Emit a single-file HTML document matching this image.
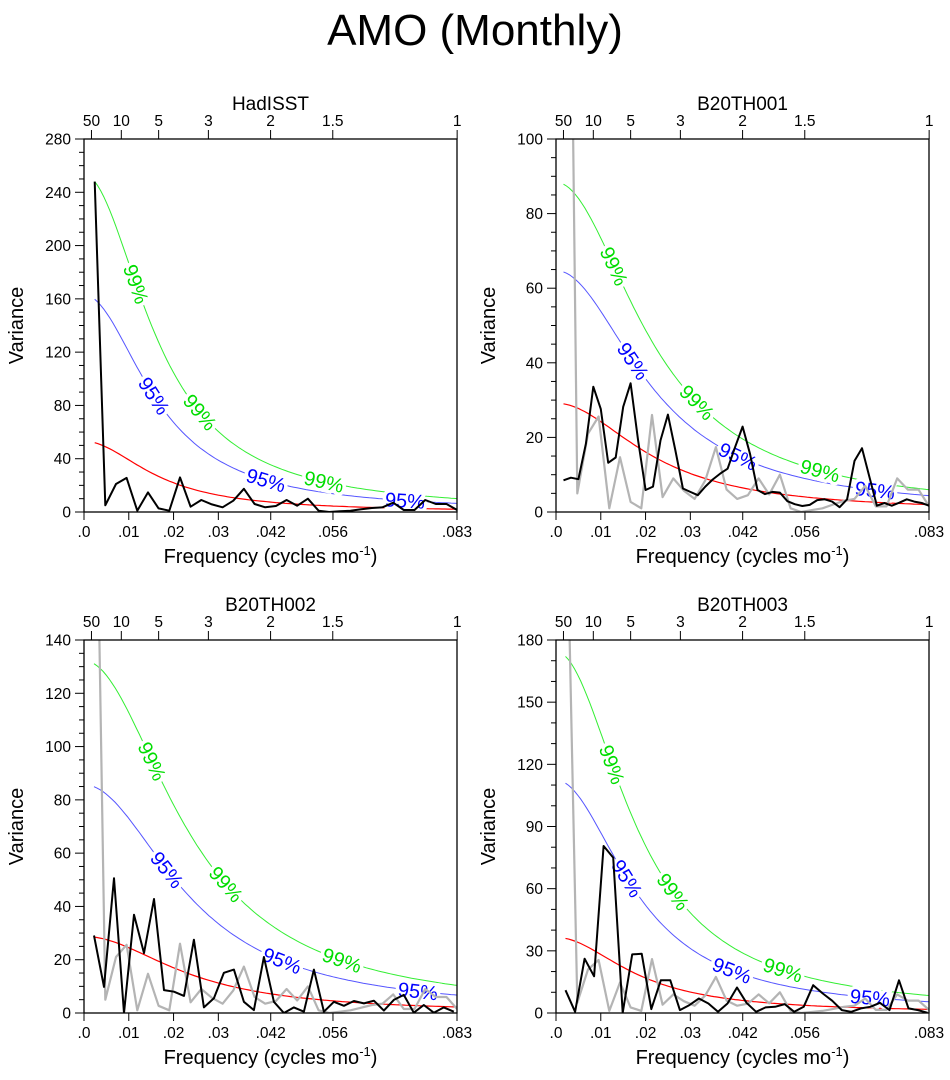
<!DOCTYPE html>
<html><head><meta charset="utf-8"><style>
html,body{margin:0;padding:0;background:#fff;}
svg{display:block;font-family:"Liberation Sans",sans-serif;}
</style></head><body>
<svg id="chart" width="950" height="1080" viewBox="0 0 950 1080">
<text x="475" y="45" font-size="44" text-anchor="middle">AMO (Monthly)</text>
</svg>
<script>
// HadISST spectrum (also shown in grey in model panels), 1/420 cycles per month spacing
const hadVals = [248,5,21,25.6,1,14.7,2.7,1,26,4,9,5.7,3.5,8.5,17.4,6,3.5,4.5,9,4.7,10,1,0,0.5,1,2,3,3.5,7,1.5,1.5,9,6,6,1.5];
const b001Vals = [8.5,9.2,8.8,18.3,33.6,27.6,13.2,14.6,28.2,34.5,19.2,5.9,6.8,19.2,26.1,16.5,6.3,5.4,4.5,6.8,8.7,10.3,11.6,17.4,22.9,15.6,5.9,4.8,5.4,5.2,2.9,2.1,1.6,1.9,3.2,3.4,2.8,1.3,3.4,13.7,17.1,9.4,1.7,2.4,1.7,2.5,3.4,2.8,2.4,1.7];
const b002Vals = [29.1,9.8,50.6,0,36.9,22.5,42.8,8.6,8.0,6.4,27.5,2.1,5.5,15.1,16.3,4.2,1.1,21.0,4.2,0,2.1,0.5,16.3,0.5,4.2,2.7,4.5,3.6,4.6,0.9,4.9,6.8,0.1,3.0,0.1,2.1,0.5];
const b003Vals = [11.0,0.6,26.2,17.7,80.6,75.0,0.1,28.3,28.6,1.9,15.8,15.8,1.4,3.8,7.0,4.6,0.6,4.6,12.3,4.9,0.6,2.7,3.0,4.3,0.6,3.0,13.4,9.4,5.9,1.4,0.6,2.2,3.0,4.9,1.4,15.8,2.2,1.4,0.1];
const recordMonths = [420,600,448,470];
const panelTitles = ["HadISST","B20TH001","B20TH002","B20TH003"];
const yMaxes = [280,100,140,180];
const yMajorSteps = [40,20,20,30];
const yMinorSteps = [10,5,5,10];
const redStart = [52,29,28.5,36];
const redR = [0.9,0.87,0.86,0.89];
const fac95 = [3.07,2.22,2.98,3.08];
const fac99 = [4.77,3.03,4.6,4.78];
const xTickVals = [0,0.01,0.02,0.03,0.0417,0.0556,0.0833];
const xTickLabels = [".0",".01",".02",".03",".042",".056",".083"];
const periodVals = [50,10,5,3,2,1.5,1];
const label99X = [[136,200,324],[614,697,820],[152,226,342],[612,673,783]];
const label95X = [[154,266,405],[633,738,875],[167,282,418],[627,732,870]];

const svg = document.getElementById('chart');
const NS = 'http://www.w3.org/2000/svg';
function mk(tag, attrs, parent){const e=document.createElementNS(NS,tag);for(const k in attrs)e.setAttribute(k,attrs[k]);(parent||svg).appendChild(e);return e;}

const panels = [{x0:84,y0:139},{x0:556,y0:139},{x0:84,y0:640},{x0:556,y0:640}];
const W=373,H=373,FMAX=0.0833;
const modelData=[hadVals,b001Vals,b002Vals,b003Vals];

panels.forEach((p,pi)=>{
  const g=mk('g',{});
  
  
  const xs=f=>p.x0+f/FMAX*W;
  const ys=v=>p.y0+H-v/yMaxes[pi]*H;
  const clipId='clip'+pi;
  const cp=mk('clipPath',{id:clipId},g);mk('rect',{x:p.x0,y:p.y0,width:W,height:H},cp);
  const t=mk('text',{x:p.x0+W/2,y:p.y0-29,'font-size':19,'text-anchor':'middle'},g);t.textContent=panelTitles[pi];
  
  
  for(let v=0;v<=yMaxes[pi]+1e-9;v+=yMinorSteps[pi]){
    const major=Math.abs(v/yMajorSteps[pi]-Math.round(v/yMajorSteps[pi]))<1e-6;
    mk('line',{x1:p.x0,x2:p.x0-(major?9:5),y1:ys(v),y2:ys(v),stroke:'#000','stroke-width':1},g);
    if(major){const l=mk('text',{x:p.x0-13,y:ys(v)+5.5,'font-size':15.5,'text-anchor':'end'},g);l.textContent=v;
      
      }
  }
  xTickVals.forEach((f,i)=>{
    mk('line',{x1:xs(f),x2:xs(f),y1:p.y0+H,y2:p.y0+H+8,stroke:'#000','stroke-width':1},g);
    const l=mk('text',{x:xs(f),y:p.y0+H+25,'font-size':15.5,'text-anchor':'middle'},g);l.textContent=xTickLabels[i];
    
    
  });
  periodVals.forEach(pv=>{
    const f=1/(12*pv);
    mk('line',{x1:xs(f),x2:xs(f),y1:p.y0,y2:p.y0-9,stroke:'#000','stroke-width':1},g);
    const l=mk('text',{x:xs(f),y:p.y0-13,'font-size':15.5,'text-anchor':'middle'},g);l.textContent=pv;
    
    
  });
  const yt=mk('text',{x:0,y:0,'font-size':20,'text-anchor':'middle',transform:`translate(${p.x0-61},${p.y0+H/2}) rotate(-90)`},g);
  yt.textContent='Variance';
  
  
  const xt=mk('text',{x:p.x0+W/2,y:p.y0+H+51,'font-size':20,'text-anchor':'middle'},g);
  xt.innerHTML='Frequency (cycles mo<tspan font-size="13" dy="-8">-1</tspan><tspan dy="8">)</tspan>';
  
  

  const marks=mk('g',{'clip-path':`url(#${clipId})`},g);
  const vals=modelData[pi];
  const freqs=vals.map((_,i)=>(i+1)/recordMonths[pi]);
  const r=redR[pi];
  const den=f=>1+r*r-2*r*Math.cos(2*Math.PI*f);
  const f0=freqs[0];
  const red=f=>redStart[pi]*den(f0)/den(f);
  const curvePts=fac=>{const a=[];for(let k=0;k<=120;k++){const f=f0+(FMAX-f0)*k/120;a.push(xs(f).toFixed(1)+','+ys(red(f)*fac).toFixed(1));}return a.join(' ');};
  const cg=mk('polyline',{points:curvePts(fac99[pi]),fill:'none',stroke:'#33ee33','stroke-width':1},marks);
  
  
  const cb=mk('polyline',{points:curvePts(fac95[pi]),fill:'none',stroke:'#5555ff','stroke-width':1},marks);
  
  
  const cr=mk('polyline',{points:curvePts(1),fill:'none',stroke:'#ff0000','stroke-width':1.2},marks);
  
  
  // curve labels (halo cuts only the significance curves)
  const fOfX=x=>(x-p.x0)/W*FMAX;
  const addLabel=(x,fac,txt,col,name)=>{
    const y=ys(red(fOfX(x))*fac);
    const y1=ys(red(fOfX(x-4))*fac),y2=ys(red(fOfX(x+4))*fac);
    const ang=Math.atan2(y2-y1,8)*180/Math.PI;
    const l=mk('text',{x:0,y:7,'font-size':20,'text-anchor':'middle',fill:col,stroke:'#fff','stroke-width':7,'paint-order':'stroke',transform:`translate(${x},${y}) rotate(${ang.toFixed(1)})`},g);
    l.textContent=txt;
    
    
  };
  label99X[pi].forEach(x=>addLabel(x,fac99[pi],'99%','#00dd00','label-99-percent'));
  label95X[pi].forEach(x=>addLabel(x,fac95[pi],'95%','#0000ff','label-95-percent'));
  const marks2=mk('g',{'clip-path':`url(#${clipId})`},g);
  if(pi>0){
    const gp=hadVals.map((v,i)=>xs((i+1)/recordMonths[0]).toFixed(1)+','+ys(v).toFixed(1)).join(' ');
    const gl=mk('polyline',{points:gp,fill:'none',stroke:'#b4b4b4','stroke-width':2.2,'stroke-linejoin':'round'},marks2);
    
    
  }
  const bp=vals.map((v,i)=>xs(freqs[i]).toFixed(1)+','+ys(v).toFixed(1)).join(' ');
  const bl=mk('polyline',{points:bp,fill:'none',stroke:'#000','stroke-width':2,'stroke-linejoin':'round'},marks2);
  
  
  const fr=mk('rect',{x:p.x0,y:p.y0,width:W,height:H,fill:'none',stroke:'#000','stroke-width':1.3},g);
  
  
});
</script>
</body></html>
